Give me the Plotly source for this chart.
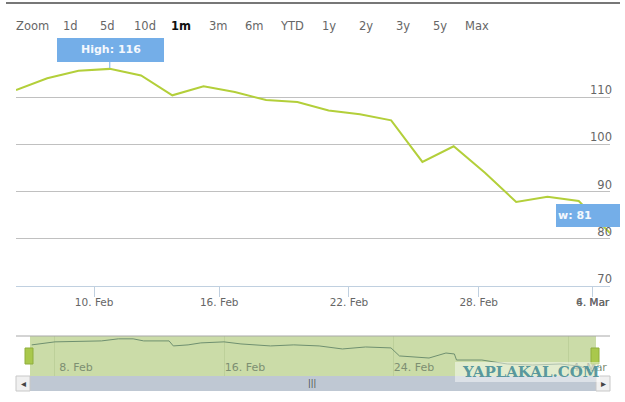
"""Stock-style chart with range selector row, flags and a navigator strip."""
import plotly.graph_objects as go

# main series: one point per trading session
sessions = list(range(20))
close_values = [111.5, 114.0, 115.6, 116.0, 114.6, 110.4, 112.3, 111.1, 109.4, 109.0,
                107.2, 106.4, 105.1, 96.3, 99.6, 94.0, 87.8, 88.9, 88.0, 81.2]

# tick positions on the session scale
main_tick_vals = [2.5, 6.5, 10.65, 14.8, 18.45]
main_tick_text = ["10. Feb", "16. Feb", "22. Feb", "28. Feb", "4. Mar"]
y_tick_vals = [70, 80, 90, 100, 110, 120]
y_tick_text = ["70", "80", "90", "100", "110", ""]

# navigator series: day of February (32 = 4 March) and value
nav_days = [6.9, 8.0, 10.2, 11.0, 11.7, 12.2, 13.4, 13.6, 14.3, 14.9, 16.0, 16.8, 18.2,
            19.3, 20.5, 21.6, 22.7, 23.9, 24.3, 25.7, 26.5, 26.9, 27.0, 28.2, 29.4,
            30.6, 31.9, 32.8, 33.5]
nav_values = [109.6, 112.8, 113.8, 116.0, 116.0, 113.8, 113.8, 108.5, 109.6, 111.7,
              112.8, 110.6, 108.5, 109.6, 108.5, 105.3, 107.4, 106.4, 97.9, 95.7,
              101.0, 100.0, 93.6, 93.6, 89.4, 88.3, 89.4, 87.2, 82.0]
nav_tick_vals = [8, 16, 24, 32.3]
nav_tick_text = ["8. Feb", "16. Feb", "24. Feb", "4. Mar"]

range_buttons = ["Zoom", "1d", "5d", "10d", "<b>1m</b>", "3m", "6m", "YTD", "1y", "2y", "3y", "5y", "Max"]
button_x = [32, 70, 107, 145, 181, 218, 255, 292, 329, 366, 403, 440, 477]

W, H = 625, 402
LINE = "#b3cf3a"
FLAG = "#74aee8"
TXT = "#666666"


def px(x):
    return x / W


def py(y):
    return 1 - y / H


def label(text, x, y, size, color, family="DejaVu Sans", xanchor="center"):
    return dict(text=text, xref="paper", yref="paper", x=px(x), y=py(y), showarrow=False,
                xanchor=xanchor, yanchor="middle", font=dict(family=family, size=size, color=color))


fig = go.Figure()
fig.add_trace(go.Scatter(x=sessions, y=close_values, mode="lines",
                         line=dict(color=LINE, width=2), hoverinfo="skip",
                         xaxis="x", yaxis="y"))
fig.add_trace(go.Scatter(x=nav_days, y=nav_values, mode="lines",
                         line=dict(color="#6f9070", width=1), hoverinfo="skip",
                         xaxis="x2", yaxis="y2"))

shapes = [
    # top rule
    dict(type="rect", xref="paper", yref="paper", x0=px(6), x1=px(620), y0=py(4), y1=py(2),
         fillcolor="#777777", line_width=0),
    # navigator background and outline
    dict(type="rect", xref="paper", yref="paper", x0=px(30), x1=px(596), y0=py(376), y1=py(336),
         fillcolor="#cbdca8", line_width=0, layer="below"),
    dict(type="line", xref="paper", yref="paper", x0=px(16), x1=px(610), y0=py(336), y1=py(336),
         line=dict(color="#a8a8a8", width=1)),
    # scrollbar
    dict(type="rect", xref="paper", yref="paper", x0=px(30), x1=px(596), y0=py(391), y1=py(376),
         fillcolor="#bfc8d3", line_width=0),
    dict(type="rect", xref="paper", yref="paper", x0=px(16), x1=px(30), y0=py(391), y1=py(376),
         fillcolor="#f0f0f0", line=dict(color="#c8c8c8", width=1)),
    dict(type="rect", xref="paper", yref="paper", x0=px(596), x1=px(610), y0=py(391), y1=py(376),
         fillcolor="#f0f0f0", line=dict(color="#c8c8c8", width=1)),
    # navigator handles
    dict(type="rect", xref="paper", yref="paper", x0=px(25), x1=px(33), y0=py(364), y1=py(348),
         fillcolor="#a9c84c", line=dict(color="#8fae3c", width=1)),
    dict(type="rect", xref="paper", yref="paper", x0=px(591), x1=px(599), y0=py(364), y1=py(348),
         fillcolor="#a9c84c", line=dict(color="#8fae3c", width=1)),
    # watermark plate
    dict(type="rect", xref="paper", yref="paper", x0=px(455), x1=px(600), y0=py(382), y1=py(362),
         fillcolor="rgba(255,255,255,0.45)", line_width=0),
    # flags
    dict(type="line", xref="x", yref="paper", x0=3, x1=3, y0=py(68), y1=py(62),
         line=dict(color=FLAG, width=1)),
    dict(type="rect", xref="paper", yref="paper", x0=px(57), x1=px(164), y0=py(62), y1=py(38),
         fillcolor=FLAG, line_width=0),
    dict(type="rect", xref="paper", yref="paper", x0=px(556), x1=px(620), y0=py(227), y1=py(204),
         fillcolor=FLAG, line_width=0),
]

annotations = []
for text, bx in zip(range_buttons, button_x):
    annotations.append(label(text, bx, 26, 11.5, "#111111" if "<b>" in text else TXT))
annotations += [
    label("<b>High: 116</b>", 111, 50, 11, "#f4f8fd"),
    label("<b>w: 81</b>", 556, 215.5, 11, "#f4f8fd", xanchor="left"),
    # second label lying on top of the last tick label
    label("6. Mar", 593, 302, 10.5, TXT),
    label("<b>YAPLAKAL.COM</b>", 530, 372, 15, "rgba(70,140,150,0.9)", family="DejaVu Serif"),
    label("|||", 312, 383.5, 8, "#444444"),
    label("◂", 23, 383.5, 10, "#444444"),
    label("▸", 603, 383.5, 10, "#444444"),
]

fig.update_layout(
    width=W, height=H, autosize=False, showlegend=False,
    margin=dict(l=0, r=0, t=0, b=0, autoexpand=False), paper_bgcolor="white", plot_bgcolor="rgba(0,0,0,0)",
    shapes=shapes, annotations=annotations,
    xaxis=dict(domain=[px(16), px(610)], range=[0, 19], tickvals=main_tick_vals, ticktext=main_tick_text,
               ticks="outside", ticklen=10, tickcolor="#c0d0e0", showgrid=False, zeroline=False,
               showline=True, linecolor="#c0d0e0", anchor="y", ticklabeloverflow="allow",
               ticklabelstandoff=-4,
               tickfont=dict(family="DejaVu Sans", size=10.5, color=TXT)),
    # labels sit left of a free axis near the right edge, just above their gridlines
    yaxis=dict(domain=[py(286), py(50)], range=[70, 120], tickvals=y_tick_vals, ticktext=y_tick_text,
               side="left", anchor="free", position=px(612), ticklabelshift=-7,
               gridcolor="#c0c0c0", gridwidth=1, zeroline=False, showline=False,
               tickfont=dict(family="DejaVu Sans", size=11.5, color=TXT)),
    xaxis2=dict(domain=[px(30), px(596)], range=[6.82, 33.6], tickvals=nav_tick_vals, ticktext=nav_tick_text,
                ticks="", showgrid=True, gridcolor="#bdd09a", zeroline=False, showline=False,
                ticklabelposition="inside", ticklabelshift=21, ticklabeloverflow="allow", anchor="y2",
                tickfont=dict(family="DejaVu Sans", size=11, color="#7d8f72")),
    yaxis2=dict(domain=[py(376), py(336)], range=[76.7, 119], showgrid=False, zeroline=False,
                showticklabels=False, anchor="x2"),
)

fig.write_html("out.html", config={"displayModeBar": False},
               post_script="document.body.style.margin='0';")
